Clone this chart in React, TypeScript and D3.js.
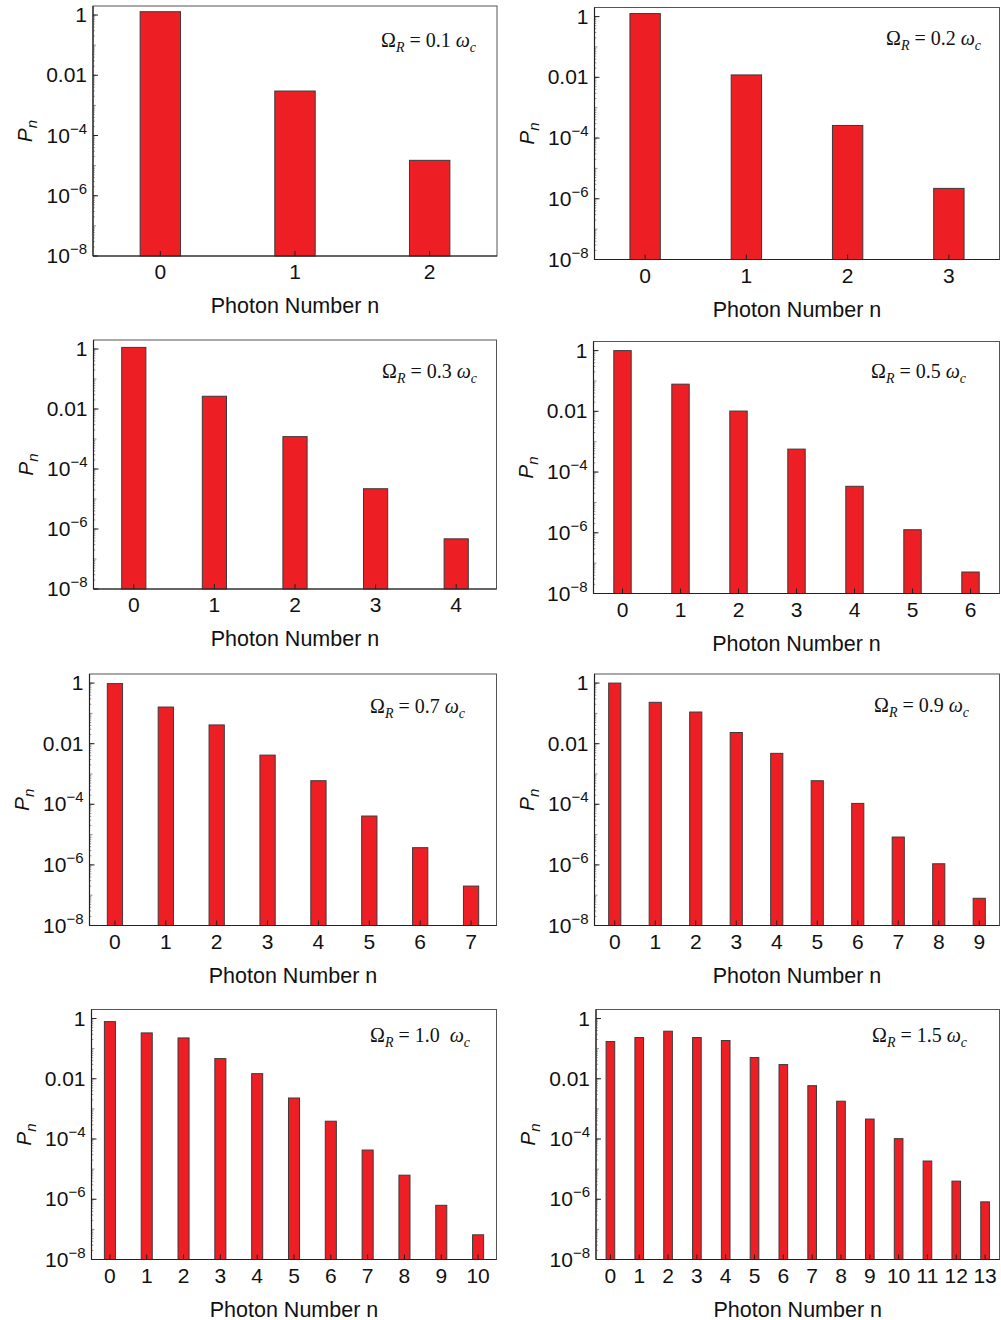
import React from "react";
import * as d3 from "d3";

// coupling strengths shown in each panel
const omegaValues = ["0.1", "0.2", "0.3", "0.5", "0.7", "0.9", "1.0", "1.5"];

// photon number distributions P_n
const p01 = [1.29, 0.003, 1.5e-5];
const p02 = [1.26, 0.012, 2.6e-4, 2.2e-6];
const p03 = [1.13, 0.0266, 1.2e-3, 2.2e-5, 4.7e-7];
const p05 = [1.0, 0.0785, 0.0102, 5.7e-4, 3.4e-5, 1.26e-6, 5.1e-8];
const p07 = [0.96, 0.162, 0.0416, 4.2e-3, 6e-4, 4.1e-5, 3.7e-6, 2e-7];
const p09 = [1.0, 0.232, 0.111, 0.0234, 4.8e-3, 6e-4, 1.07e-4, 8.3e-6, 1.09e-6, 7.9e-8];
const p10 = [0.79, 0.333, 0.227, 0.0468, 0.0148, 2.3e-3, 3.9e-4, 4.3e-5, 6.3e-6, 6.3e-7, 6.6e-8];
const p15 = [0.172, 0.234, 0.38, 0.234, 0.186, 0.0506, 0.0296, 5.9e-3, 1.8e-3, 4.6e-4, 1.03e-4, 1.86e-5, 4e-6, 8.2e-7];

const series = [p01, p02, p03, p05, p07, p09, p10, p15];

// y tick labels: [value, mantissa text, exponent text]
const yTicks: [number, string, string][] = [
  [1, "1", ""],
  [0.01, "0.01", ""],
  [1e-4, "10", "\u22124"],
  [1e-6, "10", "\u22126"],
  [1e-8, "10", "\u22128"],
];

// frame of each panel in page pixels, plus annotation anchor
const frames = [
  { x0: 93, y0: 6, x1: 497, y1: 256, ax: 381, ay: 47 },
  { x0: 594.5, y0: 7.5, x1: 999.5, y1: 259.5, ax: 886, ay: 45 },
  { x0: 93.5, y0: 340, x1: 496.5, y1: 589, ax: 382, ay: 378 },
  { x0: 593.5, y0: 341.5, x1: 999.5, y1: 593.5, ax: 871, ay: 378 },
  { x0: 89.5, y0: 674, x1: 496.5, y1: 925.5, ax: 370, ay: 713 },
  { x0: 594.5, y0: 674, x1: 999.5, y1: 925.5, ax: 874, ay: 712 },
  { x0: 91.5, y0: 1009.5, x1: 496.5, y1: 1259.5, ax: 370, ay: 1042 },
  { x0: 596, y0: 1009.5, x1: 999.5, y1: 1259.5, ax: 872, ay: 1042 },
];

const sans = "'Liberation Sans', Arial, Helvetica, sans-serif";
const serif = "'Liberation Serif', 'Times New Roman', serif";

function Panel({ data, omega, f, wide }: { data: number[]; omega: string; f: any; wide: boolean }) {
  const n = data.length;
  const x = d3.scaleLinear().domain([-0.5, n - 0.5]).range([f.x0, f.x1]);
  const y = d3.scaleLog().domain([1e-8, Math.pow(10, 0.3)]).range([f.y1, f.y0]);
  const bw = x(0.3) - x(0);

  // minor ticks for every decade
  const minor: number[] = [];
  for (let e = -8; e <= 0; e++) {
    for (let m = 1; m <= 9; m++) {
      const v = m * Math.pow(10, e);
      if (v <= Math.pow(10, 0.3)) minor.push(v);
    }
  }

  return (
    <g>
      {/* frame top/right */}
      <rect x={f.x0} y={f.y0} width={f.x1 - f.x0} height={f.y1 - f.y0} fill="none" stroke="#555" strokeWidth={1} />

      {data.map((d, i) => (
        <rect
          key={i}
          x={x(i) - bw / 2}
          y={y(d)}
          width={bw}
          height={f.y1 - y(d)}
          fill="#ed1f24"
          stroke="#3a3a3a"
          strokeWidth={1}
        />
      ))}

      {/* minor log ticks */}
      {minor.map((v, i) => (
        <line
          key={"m" + i}
          x1={f.x0}
          x2={f.x0 + (Math.abs(Math.log10(v) - Math.round(Math.log10(v))) < 1e-9 ? 3 : 1.8)}
          y1={y(v)}
          y2={y(v)}
          stroke="#777"
          strokeWidth={0.8}
        />
      ))}

      {/* axes */}
      <line x1={f.x0} x2={f.x0} y1={f.y0} y2={f.y1} stroke="#222" strokeWidth={1.2} />
      <line x1={f.x0} x2={f.x1} y1={f.y1} y2={f.y1} stroke="#222" strokeWidth={1.2} />

      {yTicks.map(([v, m, e], i) => (
        <g key={"y" + i}>
          <line x1={f.x0} x2={f.x0 + 5} y1={y(v)} y2={y(v)} stroke="#222" strokeWidth={1} />
          <text
            x={f.x0 - 6}
            y={y(v) + 7}
            textAnchor="end"
            fontFamily={sans}
            fontSize={21}
            fill="#111"
          >
            {m}
            {e && (
              <tspan dy={-9} fontSize={15}>
                {e}
              </tspan>
            )}
          </text>
        </g>
      ))}

      {data.map((_, i) => (
        <g key={"x" + i}>
          <line x1={x(i)} x2={x(i)} y1={f.y1} y2={f.y1 - 5} stroke="#222" strokeWidth={1} />
          <text
            x={x(i)}
            y={f.y1 + 23}
            textAnchor="middle"
            fontFamily={sans}
            fontSize={21}
            fill="#111"
          >
            {i}
          </text>
        </g>
      ))}

      <text
        x={(f.x0 + f.x1) / 2}
        y={f.y1 + 57}
        textAnchor="middle"
        fontFamily={sans}
        fontSize={21.5}
        fill="#111"
      >
        Photon Number n
      </text>

      <text
        transform={`translate(${f.x0 - 61},${(f.y0 + f.y1) / 2}) rotate(-90)`}
        textAnchor="middle"
        fontFamily={sans}
        fontSize={21}
        fontStyle="italic"
        fill="#111"
      >
        P
        <tspan dy={5} fontSize={15}>
          n
        </tspan>
      </text>

      <text x={f.ax} y={f.ay} fontFamily={serif} fontSize={20} fill="#111">
        {"\u03A9"}
        <tspan dy={5} fontSize={14} fontStyle="italic">
          R
        </tspan>
        <tspan dy={-5}>{" = " + omega + (wide ? "\u00A0\u00A0" : " ")}</tspan>
        <tspan fontStyle="italic">{"\u03C9"}</tspan>
        <tspan dy={5} fontSize={14} fontStyle="italic">
          c
        </tspan>
      </text>
    </g>
  );
}

export default function App() {
  return (
    <svg
      width={1001}
      height={1320}
      style={{ position: "absolute", left: 0, top: 0, background: "#fff" }}
    >
      <rect width={1001} height={1320} fill="#fff" />
      {series.map((d, i) => (
        <Panel key={i} data={d} omega={omegaValues[i]} f={frames[i]} wide={omegaValues[i] === "1.0"} />
      ))}
    </svg>
  );
}
